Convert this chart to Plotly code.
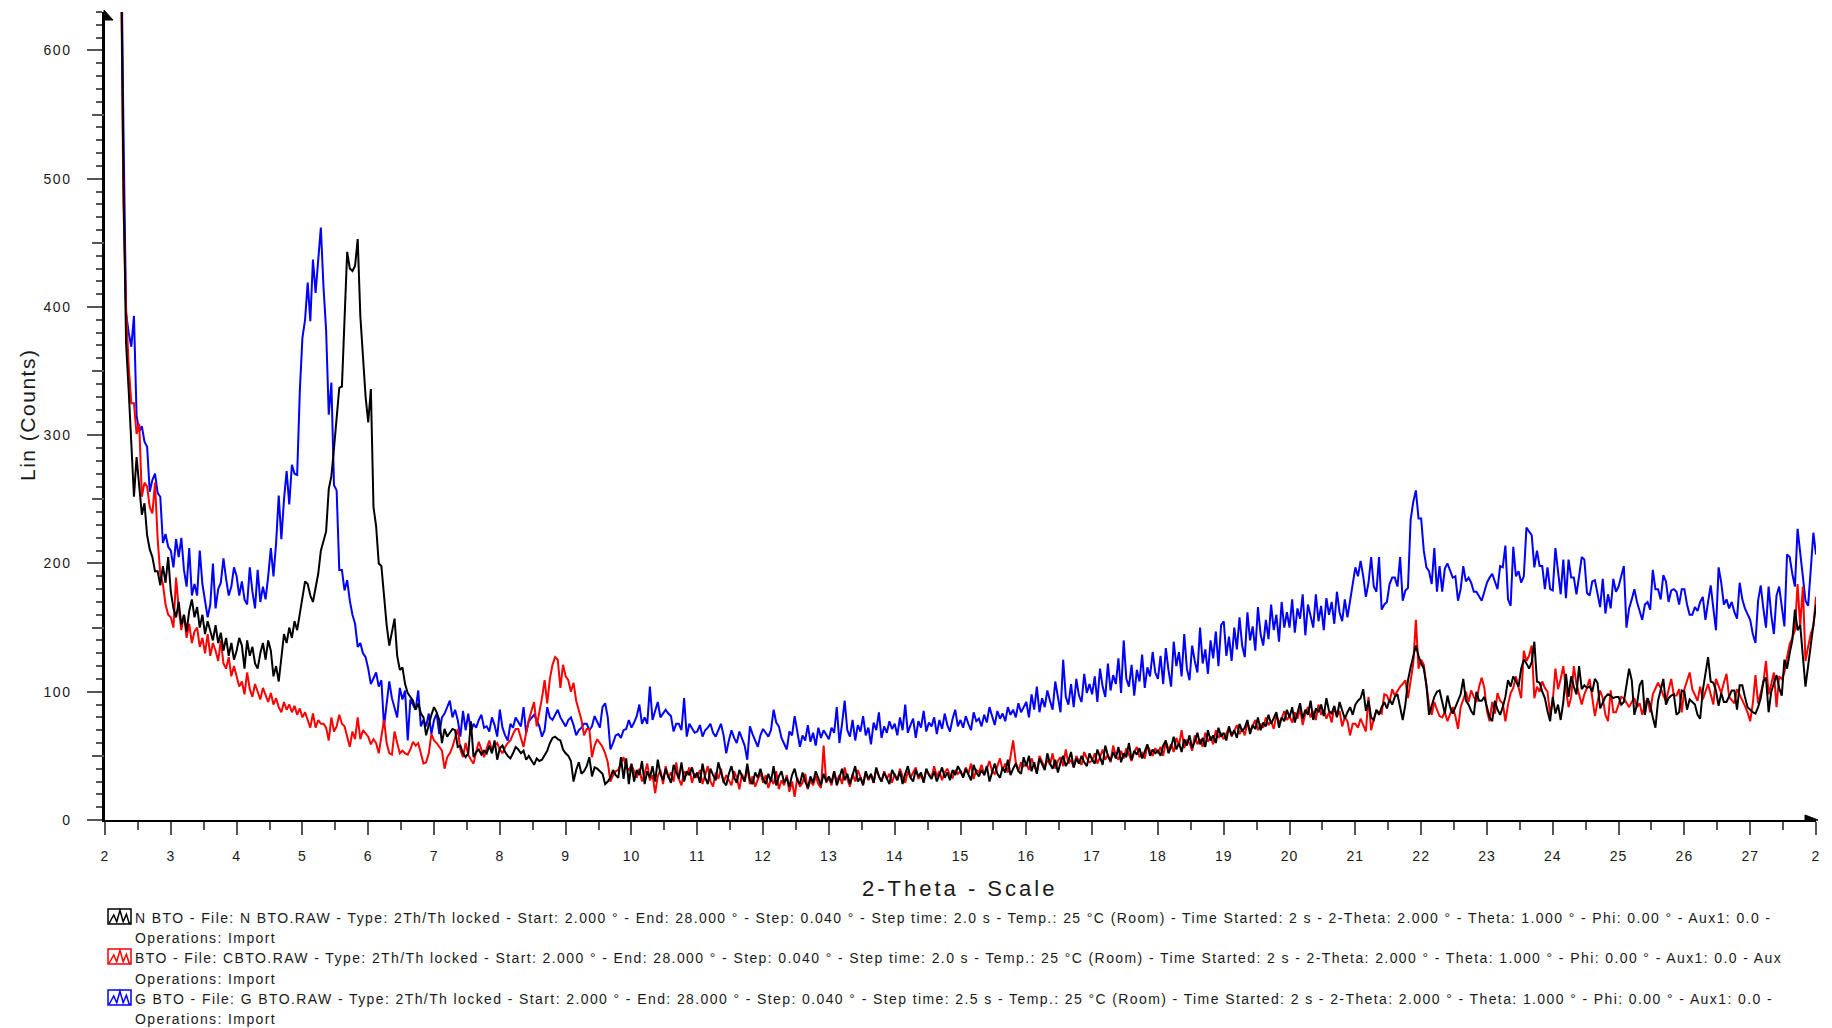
import numpy as np
import plotly.graph_objects as go

# ---------------- data ----------------
two_theta_start = 2.0
two_theta_step = 0.04

N_BTO = [
    1600, 1450, 1300, 1150, 1000, 850, 700, 500, 372, 335, 296, 252, 283, 262, 238, 247, 222, 211, 205, 194, 194, 183, 198, 185, 205,
    178, 165, 158, 170, 152, 160, 147, 163, 172, 158, 166, 150, 160, 145, 155, 148, 140, 152, 138, 146, 132, 142, 128, 138, 125,
    132, 142, 136, 118, 140, 128, 135, 122, 118, 130, 138, 125, 140, 132, 112, 120, 108, 128, 145, 138, 150, 142, 155, 148, 160,
    172, 186, 184, 175, 170, 182, 192, 210, 218, 225, 258, 268, 290, 317, 337, 338, 395, 443, 430, 428, 432, 453, 393, 360, 330,
    310, 336, 244, 229, 200, 198, 175, 152, 136, 148, 157, 128, 117, 119, 106, 99, 96, 93, 86, 91, 83, 80, 66, 75, 82,
    88, 84, 78, 60, 71, 65, 68, 71, 70, 57, 58, 52, 49, 52, 77, 49, 53, 55, 51, 54, 52, 58, 52, 62, 47,
    56, 58, 53, 50, 48, 52, 57, 55, 52, 54, 47, 50, 46, 43, 48, 46, 47, 51, 54, 60, 64, 65, 63, 62, 55,
    52, 50, 46, 30, 39, 45, 36, 38, 42, 49, 34, 41, 40, 38, 36, 28, 30, 33, 39, 35, 33, 49, 32, 48, 28,
    44, 30, 39, 35, 46, 28, 38, 33, 42, 30, 47, 36, 31, 40, 34, 29, 43, 37, 32, 45, 30, 38, 35, 41, 33,
    37, 29, 44, 33, 28, 40, 35, 31, 45, 38, 30, 27, 36, 42, 33, 29, 39, 34, 30, 44, 31, 28, 37, 33, 40,
    32, 28, 36, 30, 42, 27, 34, 38, 29, 33, 26, 35, 40, 31, 28, 37, 30, 25, 34, 29, 38, 32, 27, 36, 30,
    34, 29, 38, 27, 33, 40, 31, 36, 28, 35, 42, 30, 33, 27, 38, 32, 36, 29, 41, 34, 30, 37, 33, 28, 39,
    35, 31, 38, 28, 36, 42, 33, 30, 39, 34, 37, 29, 40, 35, 32, 38, 30, 36, 41, 33, 37, 31, 39, 35, 42,
    38, 33, 40, 36, 31, 43, 37, 34, 39, 35, 42, 30, 38, 44, 36, 33, 41, 37, 47, 35, 40, 44, 38, 36, 49,
    42, 50, 38, 45, 36, 48, 43, 39, 52, 44, 40, 47, 37, 45, 50, 42, 46, 53, 41, 48, 44, 50, 45, 42, 52,
    47, 44, 55, 49, 43, 58, 50, 46, 53, 48, 57, 45, 52, 49, 60, 47, 54, 51, 56, 48, 53, 59, 50, 55, 52,
    54, 50, 58, 62, 52, 57, 65, 55, 60, 53, 63, 58, 66, 56, 61, 68, 59, 64, 57, 70, 62, 66, 60, 72, 65,
    68, 62, 73, 66, 70, 64, 75, 69, 72, 78, 67, 74, 71, 80, 70, 76, 73, 82, 75, 79, 84, 72, 80, 77, 86,
    80, 88, 76, 84, 91, 79, 86, 82, 93, 78, 87, 84, 90, 81, 95, 85, 83, 89, 80, 92, 86, 79, 84, 88, 82,
    90, 93, 95, 102, 85, 93, 80, 78, 86, 82, 88, 92, 87, 94, 90, 96, 98, 88, 78, 90, 109, 119, 127, 136, 128,
    122, 118, 105, 82, 90, 96, 100, 101, 92, 83, 97, 88, 83, 88, 92, 98, 110, 93, 90, 85, 82, 100, 93, 93, 96,
    88, 80, 77, 93, 86, 82, 88, 96, 109, 104, 112, 108, 104, 118, 125, 122, 118, 123, 139, 108, 107, 100, 95, 85, 77,
    96, 83, 90, 78, 92, 114, 96, 112, 104, 98, 120, 102, 105, 103, 104, 100, 110, 107, 87, 92, 96, 98, 97, 95, 96,
    96, 90, 92, 104, 118, 109, 82, 90, 105, 109, 82, 95, 90, 80, 72, 93, 101, 110, 90, 95, 97, 98, 82, 84, 101,
    100, 86, 94, 92, 90, 82, 79, 101, 115, 127, 108, 107, 101, 89, 99, 92, 92, 97, 101, 101, 86, 105, 105, 96, 88,
    86, 84, 83, 88, 95, 108, 111, 84, 100, 106, 113, 103, 97, 125, 118, 130, 140, 164, 148, 152, 125, 104, 120, 135, 150,
    168,
]

C_BTO = [
    1550, 1400, 1250, 1100, 950, 800, 690, 480, 400, 354, 325, 325, 301, 309, 252, 263, 260, 244, 239, 263, 219, 192, 184, 168, 160,
    158, 150, 189, 165, 148, 160, 142, 153, 138, 147, 150, 135, 142, 130, 145, 128, 138, 132, 124, 140, 122, 118, 127, 112, 120,
    112, 104, 108, 98, 115, 102, 96, 106, 100, 94, 103, 97, 92, 99, 90, 95, 88, 84, 92, 86, 90, 84, 89, 82, 87,
    80, 84, 78, 72, 83, 72, 78, 75, 75, 72, 62, 80, 69, 73, 82, 75, 73, 66, 57, 69, 63, 80, 63, 70, 67,
    65, 59, 63, 60, 52, 65, 78, 60, 52, 51, 69, 60, 52, 54, 52, 51, 55, 61, 58, 60, 53, 44, 45, 52, 67,
    62, 60, 57, 54, 40, 49, 52, 57, 64, 71, 55, 49, 60, 51, 47, 44, 53, 61, 55, 49, 56, 62, 54, 58, 60,
    55, 52, 57, 60, 62, 67, 71, 71, 64, 57, 68, 78, 85, 92, 73, 83, 95, 109, 91, 110, 121, 127, 125, 103, 121,
    112, 109, 100, 107, 93, 86, 78, 66, 71, 71, 49, 58, 63, 60, 57, 52, 45, 30, 35, 38, 39, 44, 49, 41, 39,
    43, 38, 33, 40, 30, 36, 44, 31, 35, 21, 34, 39, 28, 42, 33, 37, 30, 45, 32, 27, 38, 35, 41, 29, 36,
    33, 39, 28, 35, 42, 30, 26, 37, 32, 40, 29, 35, 31, 27, 38, 33, 24, 36, 30, 41, 28, 34, 26, 31, 37,
    29, 35, 25, 32, 28, 38, 24, 31, 27, 35, 22, 30, 18, 33, 26, 29, 36, 24, 31, 27, 34, 28, 25, 58, 29,
    33, 27, 38, 30, 35, 28, 41, 32, 26, 36, 30, 39, 33, 28, 37, 31, 35, 29, 40, 34, 30, 38, 32, 36, 29,
    36, 31, 40, 34, 29, 38, 33, 37, 41, 32, 35, 30, 39, 36, 33, 42, 34, 38, 31, 37, 40, 35, 33, 39, 36,
    38, 34, 41, 36, 44, 32, 39, 37, 43, 35, 40, 46, 38, 36, 42, 48, 39, 44, 37, 48, 62, 45, 38, 45, 42,
    44, 39, 48, 42, 37, 50, 45, 41, 47, 43, 52, 40, 46, 49, 42, 55, 44, 47, 41, 50, 46, 43, 53, 48, 45,
    46, 52, 44, 49, 55, 47, 51, 45, 58, 50, 47, 54, 48, 56, 51, 46, 53, 57, 49, 52, 48, 58, 54, 50, 56,
    52, 57, 50, 61, 55, 59, 53, 64, 58, 70, 56, 62, 60, 54, 66, 59, 63, 57, 68, 61, 65, 59, 70, 64, 67,
    63, 68, 72, 65, 70, 74, 67, 71, 66, 76, 69, 73, 78, 70, 75, 72, 80, 74, 77, 71, 82, 76, 79, 85, 78,
    81, 76, 84, 79, 87, 74, 83, 88, 80, 85, 78, 90, 82, 86, 79, 84, 76, 88, 81, 85, 73, 80, 77, 66, 75,
    75, 72, 79, 74, 69, 96, 70, 79, 85, 84, 83, 98, 97, 92, 102, 97, 101, 104, 106, 109, 95, 108, 122, 156, 118,
    125, 121, 105, 90, 82, 92, 86, 81, 80, 84, 77, 83, 88, 81, 71, 88, 95, 100, 92, 101, 96, 92, 104, 111, 103,
    85, 77, 92, 83, 99, 93, 91, 77, 90, 99, 103, 112, 104, 95, 132, 124, 128, 136, 95, 104, 100, 108, 103, 100, 82,
    93, 118, 102, 110, 120, 102, 88, 96, 120, 106, 98, 90, 98, 103, 110, 96, 81, 92, 101, 95, 82, 77, 101, 84, 84,
    90, 96, 95, 91, 88, 92, 95, 88, 91, 82, 90, 95, 84, 98, 103, 107, 103, 97, 93, 102, 110, 97, 97, 102, 84,
    102, 108, 115, 102, 97, 93, 104, 94, 100, 106, 98, 90, 110, 104, 99, 107, 114, 96, 93, 91, 102, 98, 94, 89, 84,
    77, 91, 113, 91, 100, 107, 124, 98, 106, 115, 88, 112, 110, 115, 127, 137, 142, 148, 184, 151, 182, 124, 135, 145, 151,
    174,
]

G_BTO = [
    1650, 1500, 1350, 1200, 1050, 900, 720, 540, 395, 380, 369, 393, 315, 303, 307, 295, 291, 256, 265, 270, 255, 252, 216, 223, 213,
    210, 197, 219, 205, 220, 195, 182, 212, 175, 184, 175, 210, 184, 170, 158, 168, 200, 165, 180, 185, 204, 188, 175, 182, 197,
    190, 175, 186, 172, 168, 197, 178, 165, 195, 170, 182, 172, 190, 212, 190, 216, 253, 219, 250, 272, 246, 277, 270, 269, 334,
    376, 390, 419, 389, 437, 411, 437, 462, 416, 382, 316, 341, 261, 257, 195, 195, 179, 187, 171, 160, 153, 135, 138, 130, 127,
    118, 106, 110, 115, 104, 109, 73, 91, 108, 95, 88, 80, 103, 94, 101, 62, 94, 90, 86, 101, 73, 78, 73, 83, 67,
    78, 83, 67, 80, 83, 88, 93, 80, 86, 78, 65, 85, 70, 83, 69, 75, 72, 78, 82, 72, 73, 69, 80, 74, 65,
    86, 72, 66, 62, 75, 72, 80, 76, 73, 88, 68, 77, 80, 82, 78, 73, 65, 70, 88, 80, 78, 82, 86, 80, 77,
    73, 78, 80, 74, 66, 70, 72, 75, 75, 70, 73, 81, 76, 72, 88, 91, 80, 55, 60, 66, 67, 64, 70, 71, 78,
    72, 76, 81, 90, 75, 80, 75, 104, 78, 85, 92, 80, 83, 86, 83, 81, 69, 75, 75, 70, 95, 65, 75, 72, 68,
    69, 74, 65, 70, 72, 75, 68, 65, 70, 75, 66, 52, 62, 70, 64, 60, 69, 63, 58, 47, 73, 67, 62, 57, 66,
    71, 68, 65, 70, 86, 76, 73, 64, 60, 55, 69, 66, 81, 70, 57, 66, 62, 74, 61, 68, 58, 72, 64, 70, 66,
    63, 72, 68, 88, 60, 75, 93, 70, 65, 78, 62, 74, 69, 81, 66, 72, 59, 76, 70, 84, 64, 73, 68, 77, 71,
    75, 66, 80, 70, 90, 68, 74, 79, 64, 77, 72, 85, 69, 76, 73, 80, 67, 78, 71, 83, 74, 69, 79, 86, 73,
    78, 72, 81, 75, 70, 84, 77, 79, 73, 82, 76, 88, 80, 74, 85, 79, 83, 77, 88, 82, 86, 80, 91, 84, 88,
    92, 80, 98, 86, 104, 84, 95, 88, 101, 93, 86, 108, 94, 84, 125, 96, 90, 106, 88, 110, 97, 92, 114, 99, 106,
    98, 112, 92, 118, 104, 96, 122, 101, 113, 106, 126, 99, 140, 110, 104, 121, 97, 117, 108, 129, 103, 119, 112, 131, 115,
    110, 128, 106, 134, 117, 104, 139, 120, 131, 112, 145, 118, 109, 136, 124, 115, 150, 122, 133, 114, 140, 126, 147, 120, 152,
    155, 128, 143, 124, 150, 133, 158, 136, 127, 162, 140, 151, 132, 166, 145, 136, 156, 141, 168, 148, 160, 139, 170, 150, 162,
    150, 172, 146, 165, 157, 176, 144, 168, 159, 150, 176, 155, 167, 148, 173, 160, 170, 153, 178, 162, 155, 172, 158, 171, 185,
    197, 190, 202, 190, 174, 185, 205, 182, 178, 205, 164, 168, 170, 184, 189, 189, 182, 205, 171, 179, 181, 234, 248, 257, 235,
    235, 210, 197, 194, 184, 212, 178, 198, 178, 196, 200, 195, 189, 190, 171, 180, 198, 186, 189, 185, 178, 178, 175, 171, 178,
    185, 189, 192, 186, 180, 198, 197, 214, 172, 167, 213, 190, 194, 185, 190, 228, 225, 222, 197, 210, 198, 198, 180, 197, 180,
    179, 212, 192, 176, 203, 173, 203, 189, 189, 176, 190, 205, 203, 177, 175, 186, 187, 177, 166, 188, 161, 176, 165, 188, 178,
    182, 190, 198, 150, 165, 172, 180, 170, 162, 156, 168, 170, 164, 195, 180, 180, 172, 191, 186, 170, 179, 180, 178, 168, 180,
    180, 168, 160, 160, 166, 163, 170, 174, 156, 170, 183, 165, 148, 197, 185, 168, 172, 165, 170, 162, 157, 185, 172, 165, 160,
    156, 145, 138, 171, 183, 165, 150, 182, 160, 145, 175, 182, 165, 151, 207, 205, 192, 182, 227, 210, 190, 171, 167, 195, 224,
    207,
]

x_tick_values = list(range(2, 29))
x_tick_labels = [str(v) for v in range(2, 28)] + ["2"]   # last label is cut at the image edge
y_tick_values = [0, 100, 200, 300, 400, 500, 600]
y_tick_labels = ["0", "100", "200", "300", "400", "500", "600"]

legend_lines = [
    "N BTO - File: N BTO.RAW - Type: 2Th/Th locked - Start: 2.000 ° - End: 28.000 ° - Step: 0.040 ° - Step time: 2.0 s - Temp.: 25 °C (Room) - Time Started: 2 s - 2-Theta: 2.000 ° - Theta: 1.000 ° - Phi: 0.00 ° - Aux1: 0.0 -",
    "BTO - File: CBTO.RAW - Type: 2Th/Th locked - Start: 2.000 ° - End: 28.000 ° - Step: 0.040 ° - Step time: 2.0 s - Temp.: 25 °C (Room) - Time Started: 2 s - 2-Theta: 2.000 ° - Theta: 1.000 ° - Phi: 0.00 ° - Aux1: 0.0 - Aux",
    "G BTO - File: G BTO.RAW - Type: 2Th/Th locked - Start: 2.000 ° - End: 28.000 ° - Step: 0.040 ° - Step time: 2.5 s - Temp.: 25 °C (Room) - Time Started: 2 s - 2-Theta: 2.000 ° - Theta: 1.000 ° - Phi: 0.00 ° - Aux1: 0.0 -",
]
legend_second_line = "Operations: Import"
series_names = ["N BTO", "BTO", "G BTO"]
series_colors = ["#000000", "#ff0000", "#0000ff"]

assert len(N_BTO) == len(C_BTO) == len(G_BTO) == 651
two_theta = np.round(two_theta_start + two_theta_step * np.arange(len(N_BTO)), 2)

# ---------------- layout geometry ----------------
# the page body adds an 8 px margin; screen coords below are page pixels
BODY = 8
FIG_W, FIG_H = 1832 - BODY, 1028 - BODY
PLOT_L, PLOT_R, PLOT_T, PLOT_B = 105, 1816, 12, 820          # screen pixels
ML, MT = PLOT_L - BODY, PLOT_T - BODY
MR = FIG_W - (PLOT_R - BODY)
MB = FIG_H - (PLOT_B - BODY)
PW = PLOT_R - PLOT_L
PH = PLOT_B - PLOT_T


def px(xs):
    return (xs - PLOT_L) / PW


def py(ys):
    return (PLOT_B - ys) / PH


def spaced(text, ls):
    return f"<span style='letter-spacing:{ls}px'>{text}</span>"


FONT = "Liberation Sans, Arial, Helvetica, sans-serif"
TXT = "#1a1a1a"

fig = go.Figure()
for name, vals, col in [(series_names[2], G_BTO, series_colors[2]),
                        (series_names[1], C_BTO, series_colors[1]),
                        (series_names[0], N_BTO, series_colors[0])]:
    fig.add_trace(go.Scatter(x=two_theta, y=vals, mode="lines", name=name,
                             line=dict(color=col, width=2), showlegend=False))

# overlay axis carrying the mid-way (50) ticks of the count axis
fig.add_trace(go.Scatter(x=[two_theta[0]], y=[0], yaxis="y2", mode="lines",
                         showlegend=False, hoverinfo="skip", line=dict(width=0)))

fig.update_layout(
    width=FIG_W, height=FIG_H,
    margin=dict(l=ML, r=MR, t=MT, b=MB, autoexpand=False),
    paper_bgcolor="white", plot_bgcolor="white",
    font=dict(family=FONT, color=TXT),
    xaxis=dict(range=[2, 28], tickmode="array", tickvals=x_tick_values,
               ticktext=[spaced(t, 1) for t in x_tick_labels],
               ticks="outside", ticklen=13, tickwidth=1.5, tickcolor="#555555",
               minor=dict(dtick=0.5, tick0=2, ticks="outside", ticklen=8, tickwidth=1.5, tickcolor="#555555"),
               showline=True, linecolor="black", linewidth=2, showgrid=False, zeroline=False,
               tickfont=dict(size=14, family=FONT, color=TXT), ticklabelstandoff=9),
    yaxis=dict(range=[0, 630], tickmode="array", tickvals=y_tick_values,
               ticktext=[spaced(t, 1.5) for t in y_tick_labels],
               ticks="outside", ticklen=15, tickwidth=1.5, tickcolor="#555555",
               minor=dict(dtick=10, tick0=0, ticks="outside", ticklen=6, tickwidth=1.5, tickcolor="#555555"),
               showline=True, linecolor="black", linewidth=2.5, showgrid=False, zeroline=False,
               tickfont=dict(size=14, family=FONT, color=TXT), ticklabelstandoff=13),
    yaxis2=dict(range=[0, 630], overlaying="y", side="left", anchor="x",
                tickmode="array", tickvals=[50, 150, 250, 350, 450, 550],
                ticks="outside", ticklen=12, tickwidth=1.5, tickcolor="#555555",
                showticklabels=False, showline=False, showgrid=False, zeroline=False),
)

annotations = [
    dict(text=spaced("2-Theta - Scale", 3), x=px(959), y=py(888), xref="paper", yref="paper",
         xanchor="center", yanchor="middle", showarrow=False,
         font=dict(size=22, family=FONT, color=TXT)),
    dict(text=spaced("Lin (Counts)", 1.5), x=px(27), y=py(415), xref="paper", yref="paper",
         xanchor="center", yanchor="middle", showarrow=False, textangle=-90,
         font=dict(size=21, family=FONT, color=TXT)),
]
line_y = [918, 938, 958, 979, 999, 1019]
for i in range(3):
    annotations.append(dict(text=spaced(legend_lines[i], 1.4), x=px(133), y=py(line_y[2 * i]),
                            xref="paper", yref="paper", xanchor="left", yanchor="middle", showarrow=False,
                            font=dict(size=14, family=FONT, color=TXT)))
    annotations.append(dict(text=spaced(legend_second_line, 1.4), x=px(133), y=py(line_y[2 * i + 1]),
                            xref="paper", yref="paper", xanchor="left", yanchor="middle", showarrow=False,
                            font=dict(size=14, family=FONT, color=TXT)))
fig.update_layout(annotations=annotations)

shapes = []
# arrow heads at the ends of both axes
shapes.append(dict(type="path", xref="paper", yref="paper",
                   path=f"M {px(1805)},{py(815)} L {px(1818)},{py(820)} L {px(1805)},{py(821)} Z",
                   fillcolor="black", line=dict(color="black", width=1)))
shapes.append(dict(type="path", xref="paper", yref="paper",
                   path=f"M {px(104)},{py(10)} L {px(113)},{py(20)} L {px(104)},{py(20)} Z",
                   fillcolor="black", line=dict(color="black", width=1)))
# legend icons: small framed peak pictograms
for i, col in enumerate(series_colors):
    cy = line_y[2 * i]
    x0, x1, y0, y1 = 108, 131, cy - 9, cy + 6
    shapes.append(dict(type="rect", xref="paper", yref="paper",
                       x0=px(x0), x1=px(x1), y0=py(y1), y1=py(y0),
                       line=dict(color=col, width=1.5), fillcolor="rgba(0,0,0,0)"))
    rel = [(0.05, 0.95), (0.25, 0.4), (0.38, 0.85), (0.52, 0.08), (0.66, 0.85), (0.8, 0.35), (0.92, 0.95), (1.0, 0.95)]
    pts = [f"{px(x0 + u * (x1 - x0))},{py(y0 + v * (y1 - y0))}" for u, v in rel]
    shapes.append(dict(type="path", xref="paper", yref="paper",
                       path="M " + " L ".join(pts), line=dict(color=col, width=1.5)))
fig.update_layout(shapes=shapes)

fig.write_html("out.html")
